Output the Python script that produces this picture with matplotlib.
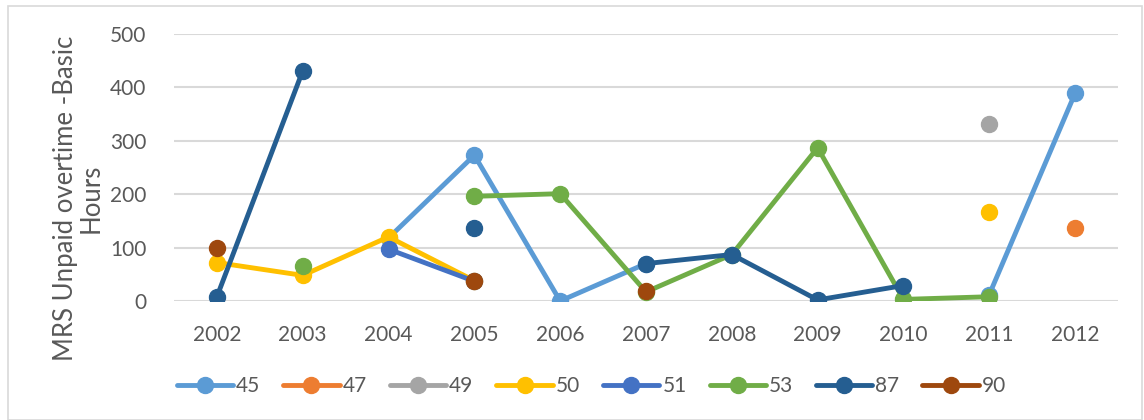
import numpy as np
import matplotlib
matplotlib.use("Agg")
import matplotlib.pyplot as plt
from matplotlib.patches import Rectangle

nan = np.nan
years = ["2002", "2003", "2004", "2005", "2006", "2007",
         "2008", "2009", "2010", "2011", "2012"]

s45 = [nan, nan, 118, 273, 0, 70, nan, nan, nan, 12, 389]
s47 = [nan, nan, nan, nan, nan, nan, nan, nan, nan, nan, 137]
s49 = [nan, nan, nan, nan, nan, nan, nan, nan, nan, 332, nan]
s50 = [72, 48, 120, 38, nan, nan, nan, nan, nan, 167, nan]
s51 = [nan, nan, 97, 37, nan, nan, nan, nan, nan, nan, nan]
s53 = [nan, 65, nan, 196, 201, 17, 87, 287, 3, 8, nan]
s87 = [8, 431, nan, 137, nan, 70, 87, 2, 29, nan, nan]
s90 = [100, nan, nan, 37, nan, 18, nan, nan, nan, nan, nan]

series = [
    ("45", s45, "#5B9BD5"),
    ("47", s47, "#ED7D31"),
    ("49", s49, "#A5A5A5"),
    ("50", s50, "#FFC000"),
    ("51", s51, "#4472C4"),
    ("53", s53, "#70AD47"),
    ("87", s87, "#255E91"),
    ("90", s90, "#9E480E"),
]

text_color = "#595959"
grid_color = "#D9D9D9"
plt.rcParams["font.family"] = ["Lato", "DejaVu Sans"]

W, H = 1144, 420
fig = plt.figure(figsize=(W / 100, H / 100), dpi=100)
fig.patch.set_facecolor("white")
fig.add_artist(Rectangle((8 / W, 0.5 / H), 1134 / W, 414 / H,
                         transform=fig.transFigure, fill=False,
                         edgecolor=grid_color, linewidth=1.2))

ax = fig.add_axes([174 / W, 1 - 301 / H, 944 / W, 267 / H])
x = np.arange(len(years))
for name, vals, color in series:
    ax.plot(x, vals, color=color, linewidth=3.5, marker="o",
            markersize=11.5, solid_capstyle="round", label=name)

ax.set_xlim(-0.5, len(years) - 0.5)
ax.set_ylim(0, 500)
ax.set_yticks(np.arange(0, 501, 100))
ax.set_xticks(x)
ax.set_xticklabels(years)
ax.grid(axis="y", color=grid_color, linewidth=1.5)
ax.set_axisbelow(True)
for sp in ax.spines.values():
    sp.set_visible(False)
ax.tick_params(axis="both", length=0, labelsize=15, colors=text_color)
ax.tick_params(axis="y", pad=20)
ax.tick_params(axis="x", pad=17)

fig.text(78.5 / W, 1 - 198 / H, "MRS Unpaid overtime -Basic\nHours",
         rotation=90, ha="center", va="center", fontsize=18.5,
         color=text_color, linespacing=1.05, multialignment="center")

leg = fig.legend(loc="center", bbox_to_anchor=(0.517, 0.081), ncol=8,
                 frameon=False, fontsize=15, handlelength=2.7,
                 handletextpad=0.15, columnspacing=1.1)
for t in leg.get_texts():
    t.set_color(text_color)

fig.savefig("out.png", dpi=100, facecolor="white")
